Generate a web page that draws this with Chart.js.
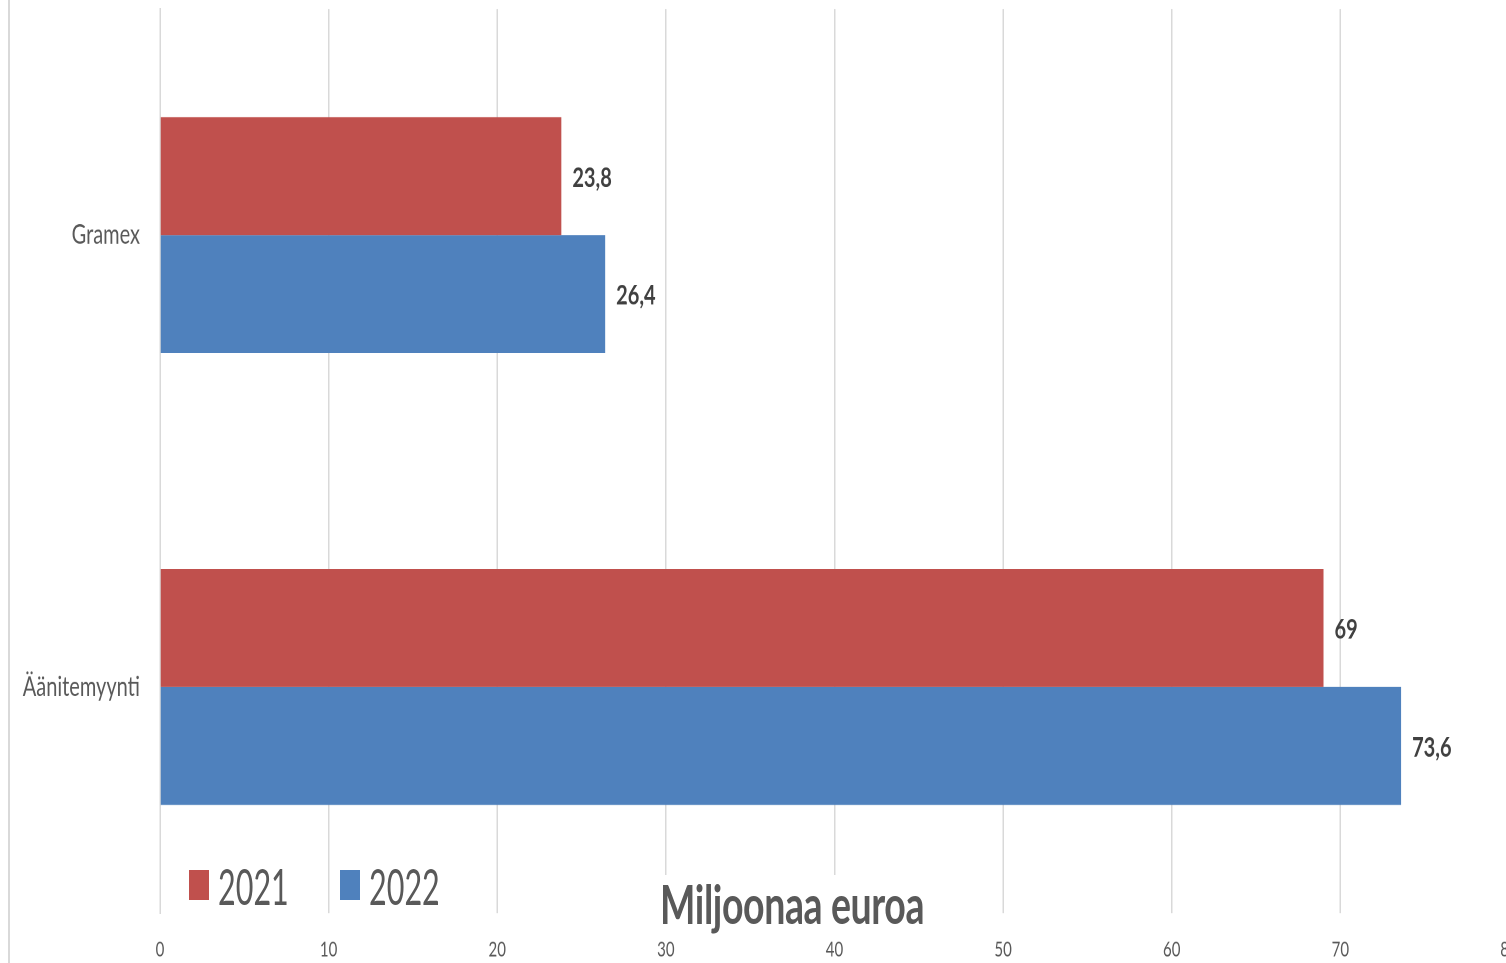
<!DOCTYPE html>
<html>
<head>
<meta charset="utf-8">
<script src="https://cdn.jsdelivr.net/npm/chart.js@4/dist/chart.umd.min.js"></script>
<style>
  html, body { margin:0; padding:0; background:#fff; overflow:hidden; width:1506px; height:963px; }
  #wrap { position:absolute; left:0; top:0; width:1509px; height:726px; transform:scaleY(1.35); transform-origin:0 0; }
  #c { display:block; }
  #frame { position:absolute; left:8px; top:0; width:2px; height:963px; background:#d9d9d9; }
  .leg { position:absolute; top:862px; height:46px; font-family:Lato, sans-serif; color:#595959; }
  .leg .sw { position:absolute; left:0; top:8px; width:20px; height:30px; }
  .leg .tx { position:absolute; left:29px; top:0; font-size:30.5px; line-height:46px; transform:scaleY(1.65); transform-origin:left center; white-space:nowrap; }
  #title { position:absolute; left:656px; top:875px; height:40px; padding:0 4px; background:#fff; font-family:Lato, sans-serif; font-weight:bold; color:#595959; font-size:37.5px; line-height:40px; letter-spacing:-0.4px; transform:scaleY(1.45); transform-origin:left top; white-space:nowrap; }
</style>
</head>
<body>
<div id="wrap"><canvas id="c" width="1509" height="726"></canvas></div>
<div id="frame"></div>
<div id="legendBox"></div>
<div id="title">Miljoonaa euroa</div>
<script>
const categories = ['Gramex', 'Äänitemyynti'];
const seriesNames = ['2021', '2022'];
const values2021 = [23.8, 69];
const values2022 = [26.4, 73.6];
const seriesColors = ['#C0504D', '#4F81BD'];
const xTickValues = [0, 10, 20, 30, 40, 50, 60, 70, 80];

const FONT = 'Lato, sans-serif';
const fmt = v => String(v).replace('.', ',');

// HTML legend built from the series
const lb = document.getElementById('legendBox');
seriesNames.forEach((n, i) => {
  const d = document.createElement('div');
  d.className = 'leg';
  d.style.left = (189 + i * 151) + 'px';
  d.innerHTML = '<div class="sw" style="background:' + seriesColors[i] + '"></div><div class="tx">' + n + '</div>';
  lb.appendChild(d);
});

const valueLabels = {
  id: 'valueLabels',
  afterDatasetsDraw(chart) {
    const ctx = chart.ctx;
    ctx.save();
    ctx.font = 'bold 20px ' + FONT;
    ctx.fillStyle = '#404040';
    ctx.textAlign = 'left';
    ctx.textBaseline = 'middle';
    chart.data.datasets.forEach((ds, i) => {
      chart.getDatasetMeta(i).data.forEach((bar, j) => {
        ctx.fillText(fmt(ds.data[j]), bar.x + 11, bar.y + 1.5);
      });
    });
    ctx.restore();
  }
};

new Chart(document.getElementById('c'), {
  type: 'bar',
  data: {
    labels: categories,
    datasets: [
      { label: seriesNames[0], data: values2021, backgroundColor: seriesColors[0], borderWidth: 0 },
      { label: seriesNames[1], data: values2022, backgroundColor: seriesColors[1], borderWidth: 0 }
    ]
  },
  options: {
    indexAxis: 'y',
    responsive: false,
    devicePixelRatio: 2,
    animation: false,
    layout: { padding: { top: 6.67, left: 0, right: 0, bottom: 0 } },
    datasets: { bar: { categoryPercentage: 0.522, barPercentage: 1.0 } },
    plugins: { legend: { display: false }, tooltip: { enabled: false }, title: { display: false } },
    scales: {
      x: {
        type: 'linear', position: 'bottom', min: 0, max: 80,
        afterBuildTicks: s => { s.ticks = xTickValues.map(v => ({ value: v })); },
        afterFit: s => { s.height = 49.7; s.paddingLeft = 0; s.paddingRight = 0; },
        grid: { color: '#d9d9d9', lineWidth: 1.5, drawTicks: false },
        border: { display: false },
        ticks: { padding: 18.4, color: '#595959', font: { family: FONT, size: 15 }, maxRotation: 0 }
      },
      y: {
        afterFit: s => { s.width = 160; s.paddingTop = 0; s.paddingBottom = 0; },
        grid: { display: false, drawTicks: false },
        border: { display: true, color: '#d9d9d9', width: 1.5 },
        ticks: { padding: 20, color: '#595959', font: { family: FONT, size: 20 } }
      }
    }
  },
  plugins: [valueLabels]
});
</script>
</body>
</html>
